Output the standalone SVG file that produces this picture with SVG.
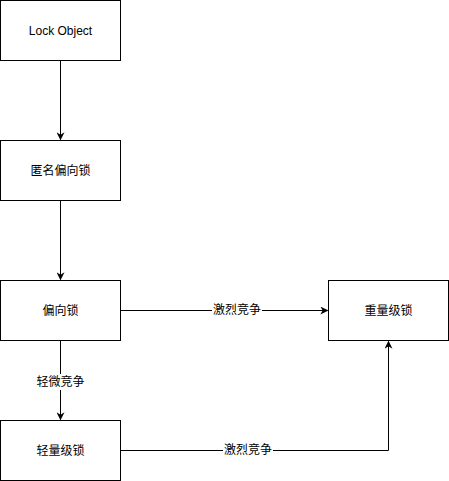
<svg xmlns="http://www.w3.org/2000/svg" width="449" height="481" viewBox="0 0 449 481">
  <style>
    .box { fill: #ffffff; stroke: #000000; stroke-width: 1; }
    .edge { fill: none; stroke: #000000; stroke-width: 1; }
    .txt { font-family: "Liberation Sans", "Noto Sans CJK SC", sans-serif; font-size: 12px; fill: #000000; text-anchor: middle; dominant-baseline: central; }
    .lblbg { fill: #ffffff; }
  </style>
  <defs>
    <marker id="arrow" viewBox="0 0 10 10" refX="9" refY="5" markerWidth="8" markerHeight="8" markerUnits="userSpaceOnUse" orient="auto">
      <path d="M0,0 L10,5 L0,10 L3,5 Z" fill="#000000"/>
    </marker>
  </defs>
  <rect width="449" height="481" fill="#ffffff"/>

  <g id="connectors">
    <path class="edge" d="M60.5,60.5 L60.5,139.5" marker-end="url(#arrow)"/>
    <path class="edge" d="M60.5,200.5 L60.5,279.5" marker-end="url(#arrow)"/>
    <path class="edge" d="M120.5,310.5 L327.5,310.5" marker-end="url(#arrow)"/>
    <path class="edge" d="M60.5,340.5 L60.5,419.5" marker-end="url(#arrow)"/>
    <path class="edge" d="M120.5,450.5 L388.5,450.5 L388.5,341.5" marker-end="url(#arrow)"/>
    <g id="label-fierce-1">
      <rect class="lblbg" x="212" y="302" width="50" height="16"/>
      <text class="txt" x="237" y="310">激烈竞争</text>
    </g>
    <g id="label-slight">
      <rect class="lblbg" x="35" y="374" width="50" height="16"/>
      <text class="txt" x="60.5" y="382">轻微竞争</text>
    </g>
    <g id="label-fierce-2">
      <rect class="lblbg" x="223" y="442" width="50" height="16"/>
      <text class="txt" x="248" y="450">激烈竞争</text>
    </g>
  </g>

  <g id="lock-object">
    <rect class="box" x="0.5" y="0.5" width="120" height="60"/>
    <text class="txt" x="60.5" y="30.5">Lock Object</text>
  </g>
  <g id="anonymous-biased-lock">
    <rect class="box" x="0.5" y="140.5" width="120" height="60"/>
    <text class="txt" x="60.5" y="170.5">匿名偏向锁</text>
  </g>
  <g id="biased-lock">
    <rect class="box" x="0.5" y="280.5" width="120" height="60"/>
    <text class="txt" x="60.5" y="310.5">偏向锁</text>
  </g>
  <g id="lightweight-lock">
    <rect class="box" x="0.5" y="420.5" width="120" height="60"/>
    <text class="txt" x="60.5" y="450.5">轻量级锁</text>
  </g>
  <g id="heavyweight-lock">
    <rect class="box" x="328.5" y="280.5" width="120" height="60"/>
    <text class="txt" x="388.5" y="310.5">重量级锁</text>
  </g>
</svg>
